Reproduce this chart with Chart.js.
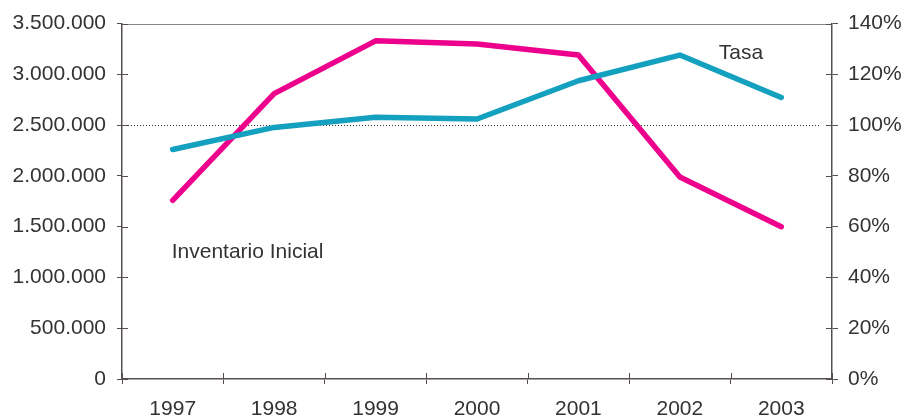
<!DOCTYPE html>
<html>
<head>
<meta charset="utf-8">
<script src="https://cdn.jsdelivr.net/npm/chart.js@4/dist/chart.umd.min.js"></script>
<style>
  html, body { margin: 0; padding: 0; background: #ffffff; }
  #wrap { width: 906px; height: 418px; position: relative; }
</style>
</head>
<body>
<div id="wrap"><canvas id="c" width="906" height="418"></canvas></div>
<script>
// Years on the horizontal axis
const years = ['1997', '1998', '1999', '2000', '2001', '2002', '2003'];
// Inventario Inicial (left axis, units)
const inventarioInicial = [1760000, 2810000, 3330000, 3300000, 3190000, 1990000, 1500000];
// Tasa (right axis, percent)
const tasa = [90.4, 99.1, 103.1, 102.4, 117.5, 127.6, 110.9];
// Axis ranges and steps
const leftMax = 3500000, leftStep = 500000;
const rightMax = 140, rightStep = 20;
// Reference level drawn as a dotted line (left axis)
const referenceLevel = 2500000;
// In-plot series labels
const labelInventario = 'Inventario Inicial';
const labelTasa = 'Tasa';

const FONT = '"Liberation Sans", Arial, Helvetica, sans-serif';
const TEXT = '#333333';
const AXIS = '#564f4f';
const MAGENTA = '#ec008c';
const TEAL = '#14a0bf';

function thousands(v) {
  return String(Math.round(v)).replace(/\B(?=(\d{3})+(?!\d))/g, '.');
}

// Extra drawing: top frame line, inner tick stubs, dotted reference line, series labels
const decorations = {
  id: 'decorations',
  beforeDatasetsDraw(chart) {
    const ctx = chart.ctx;
    const area = chart.chartArea;
    const sx = chart.scales.x, sy = chart.scales.y, sy2 = chart.scales.y2;
    ctx.save();
    // top frame line
    ctx.strokeStyle = '#8c8484';
    ctx.lineWidth = 1;
    ctx.beginPath();
    ctx.moveTo(area.left, Math.round(area.top) + 0.5);
    ctx.lineTo(area.right, Math.round(area.top) + 0.5);
    ctx.stroke();
    // tick stubs inside the plot so ticks cross the axes
    ctx.strokeStyle = AXIS;
    ctx.beginPath();
    sy.ticks.forEach((t, i) => {
      const y = Math.round(sy.getPixelForTick(i)) + 0.5;
      ctx.moveTo(area.left, y); ctx.lineTo(area.left + 6, y);
    });
    sy2.ticks.forEach((t, i) => {
      const y = Math.round(sy2.getPixelForTick(i)) + 0.5;
      ctx.moveTo(area.right - 6, y); ctx.lineTo(area.right, y);
    });
    for (let i = 0; i <= years.length; i++) {
      const x = Math.round(sx.getPixelForValue(i - 0.5)) + 0.5;
      ctx.moveTo(x, area.bottom); ctx.lineTo(x, area.bottom - 6);
    }
    ctx.stroke();
    // dotted reference line
    const yr = Math.round(sy.getPixelForValue(referenceLevel)) + 0.5;
    ctx.strokeStyle = '#333333';
    ctx.setLineDash([1, 2]);
    ctx.beginPath();
    ctx.moveTo(area.left + 6, yr);
    ctx.lineTo(area.right - 13, yr);
    ctx.stroke();
    ctx.setLineDash([]);
    ctx.restore();
  },
  afterDatasetsDraw(chart) {
    const ctx = chart.ctx;
    const sx = chart.scales.x, sy = chart.scales.y, sy2 = chart.scales.y2;
    ctx.save();
    ctx.font = '21px ' + FONT;
    ctx.fillStyle = TEXT;
    ctx.textBaseline = 'middle';
    ctx.textAlign = 'left';
    ctx.fillText(labelInventario, sx.getPixelForValue(0) - 1, sy.getPixelForValue(1250000));
    ctx.fillText(labelTasa, sx.getPixelForValue(5) + 39, sy2.getPixelForValue(128.3));
    ctx.restore();
  }
};

new Chart(document.getElementById('c'), {
  type: 'line',
  data: {
    labels: years,
    datasets: [
      {
        label: labelTasa,
        data: tasa,
        yAxisID: 'y2',
        borderColor: TEAL,
        borderWidth: 5.5,
        borderCapStyle: 'round',
        borderJoinStyle: 'round',
        pointRadius: 0,
        tension: 0,
        order: 0
      },
      {
        label: labelInventario,
        data: inventarioInicial,
        yAxisID: 'y',
        borderColor: MAGENTA,
        borderWidth: 5.5,
        borderCapStyle: 'round',
        borderJoinStyle: 'round',
        pointRadius: 0,
        tension: 0,
        order: 1
      }
    ]
  },
  options: {
    responsive: false,
    animation: false,
    devicePixelRatio: 1,
    layout: { padding: { top: 22, left: 0, right: 0, bottom: 0 } },
    plugins: { legend: { display: false }, tooltip: { enabled: false } },
    scales: {
      x: {
        type: 'category',
        offset: true,
        grid: { offset: true, drawOnChartArea: false, tickLength: 5, color: AXIS, tickColor: AXIS },
        border: { color: AXIS, width: 1.5 },
        ticks: { font: { size: 21, family: FONT }, color: TEXT, padding: 13, maxRotation: 0 },
        afterFit(s) { s.height = 39; }
      },
      y: {
        position: 'left',
        min: 0, max: leftMax,
        grid: { drawOnChartArea: false, tickLength: 5, color: AXIS, tickColor: AXIS },
        border: { color: AXIS, width: 1.5 },
        ticks: {
          stepSize: leftStep,
          font: { size: 21, family: FONT }, color: TEXT, padding: 11,
          callback: v => thousands(v)
        },
        afterFit(s) { s.width = 122; }
      },
      y2: {
        position: 'right',
        min: 0, max: rightMax,
        grid: { drawOnChartArea: false, tickLength: 6, color: AXIS, tickColor: AXIS },
        border: { color: AXIS, width: 1.5 },
        ticks: {
          stepSize: rightStep,
          font: { size: 21, family: FONT }, color: TEXT, padding: 10,
          callback: v => v + '%'
        },
        afterFit(s) { s.width = 74; }
      }
    }
  },
  plugins: [decorations]
});
</script>
</body>
</html>
